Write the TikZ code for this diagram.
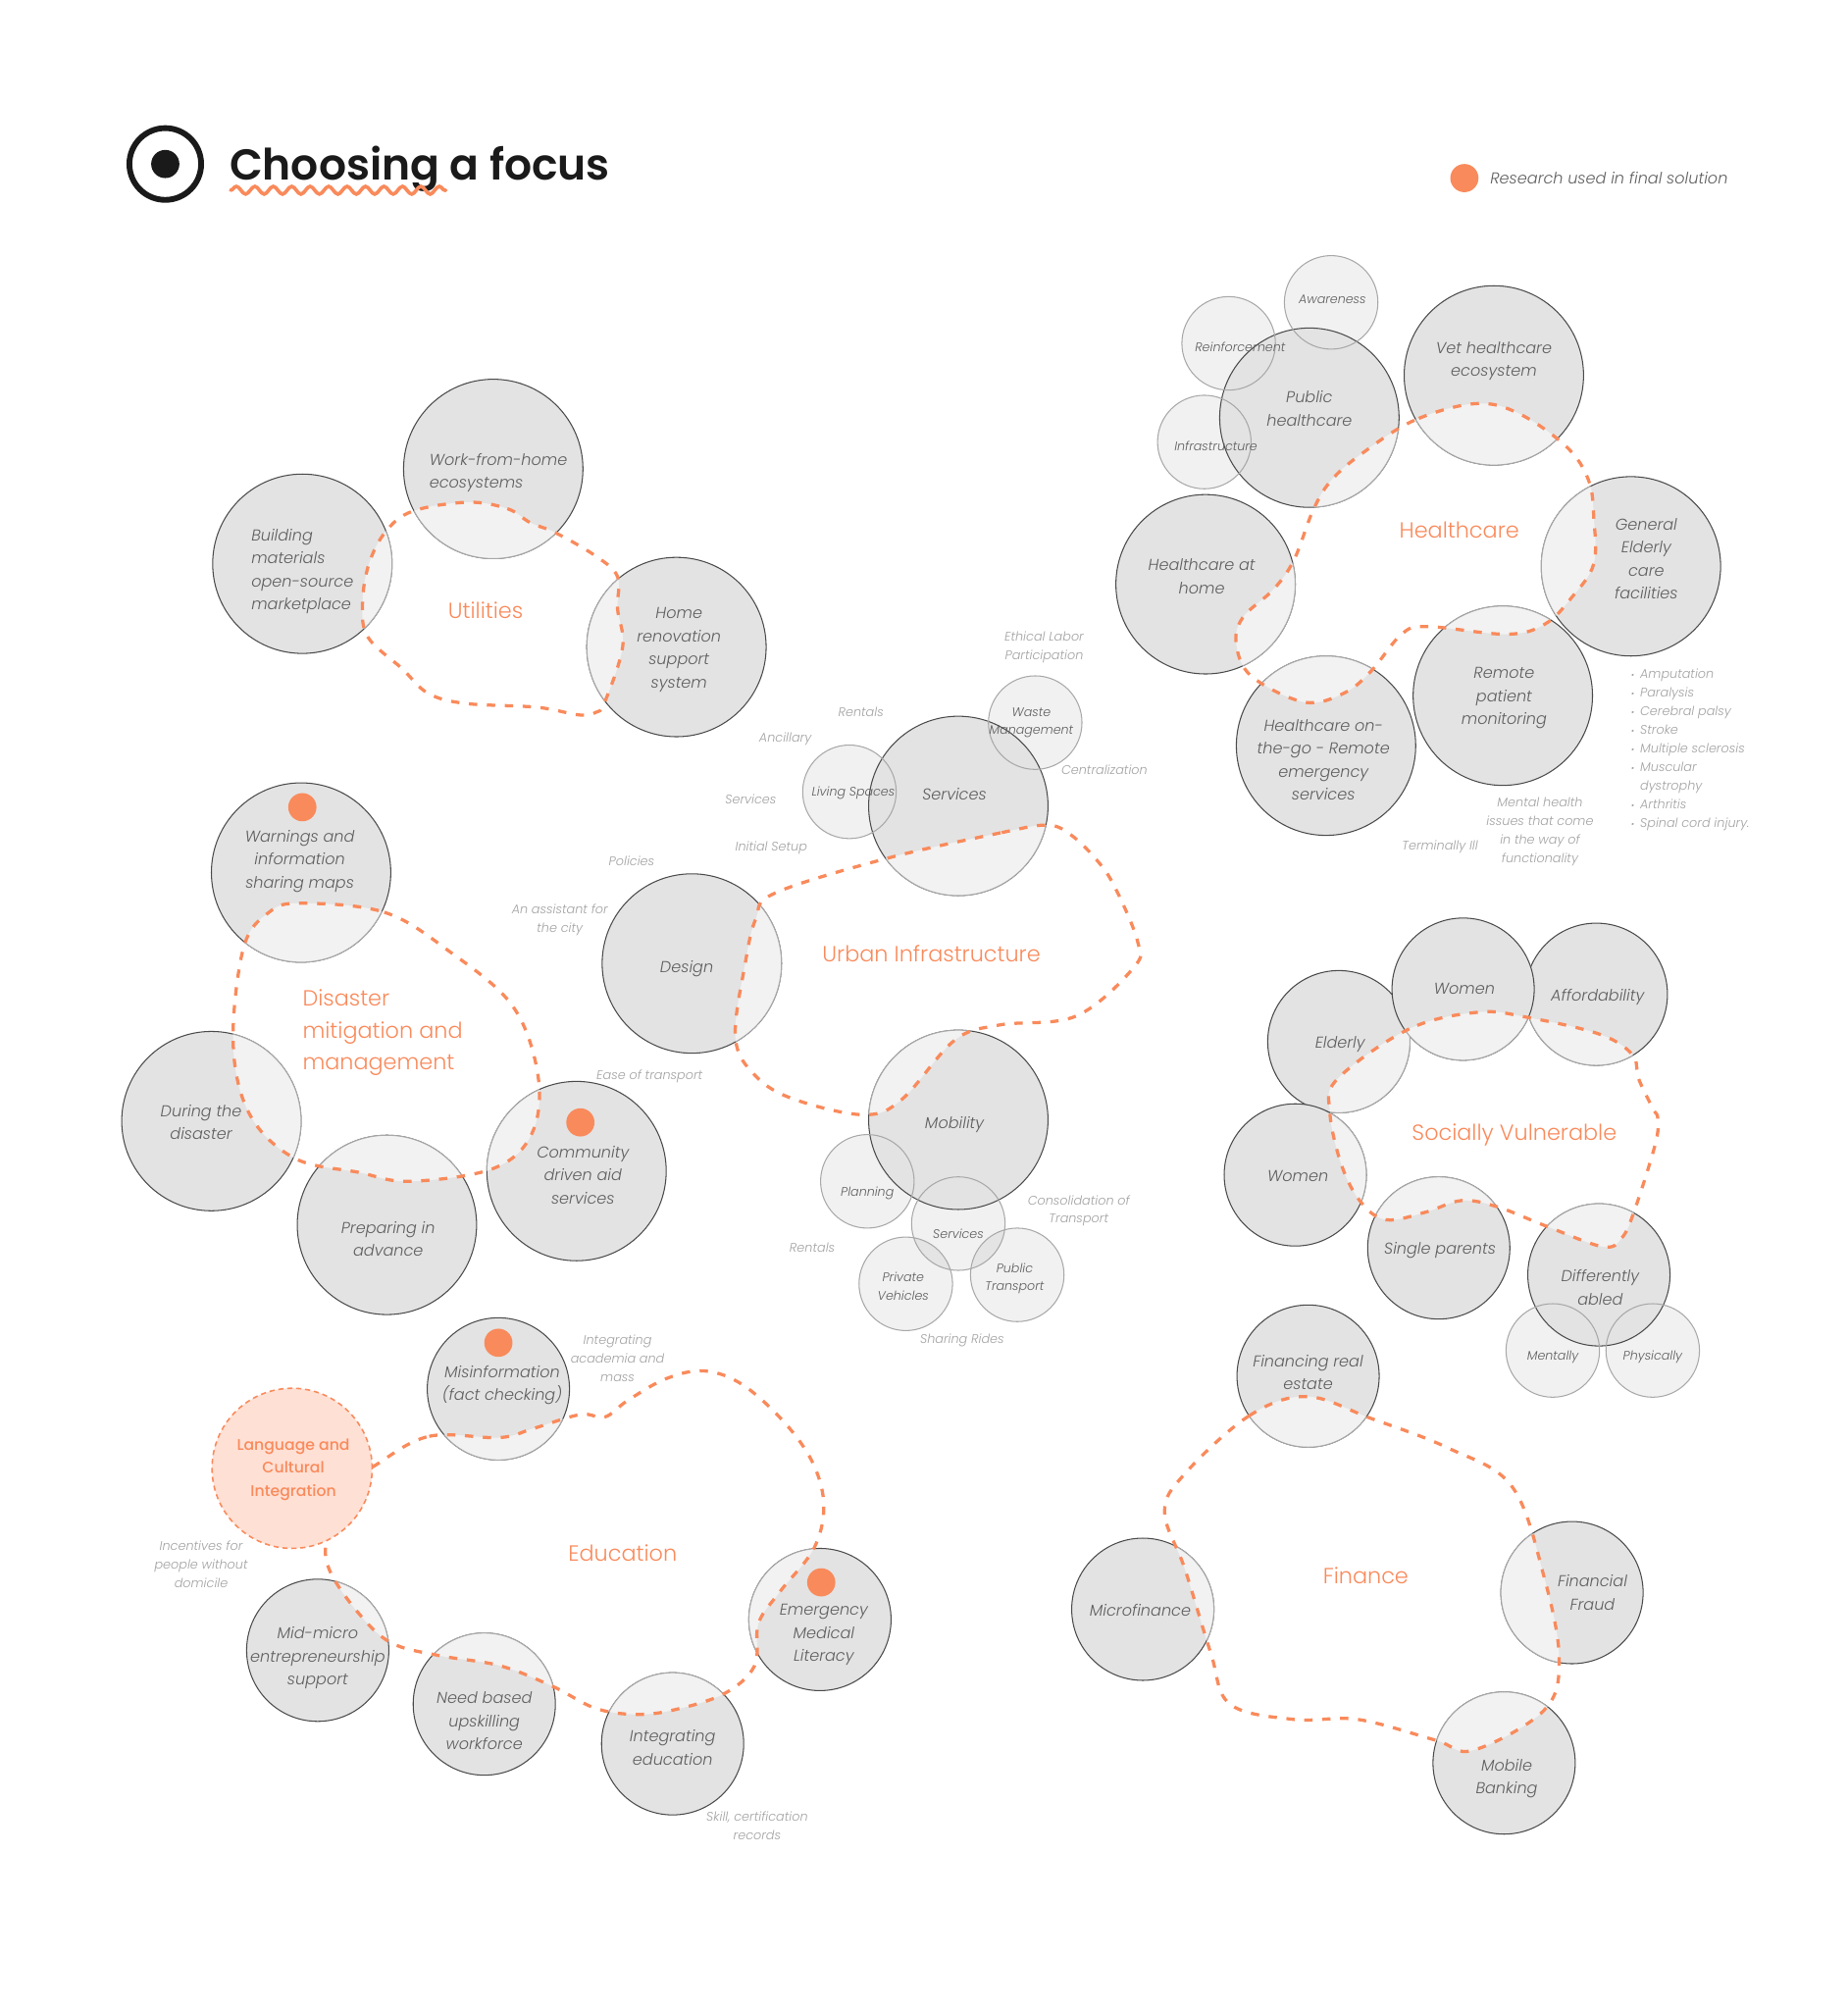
\documentclass[tikz,border=0pt]{standalone}
\usepackage{fontspec}
\usetikzlibrary{decorations.pathmorphing}
\newfontfamily\titlefont{Poppins SemiBold}
\newfontfamily\lightfont{Poppins Light}
\newfontfamily\lightital{Poppins Light Italic}
\newfontfamily\mediumfont{Poppins Medium}
\definecolor{diskgray}{HTML}{E3E3E3}
\definecolor{diskpale}{HTML}{F2F2F2}
\definecolor{diskline}{HTML}{4A4A4A}
\definecolor{paleline}{HTML}{A8A8A8}
\definecolor{accent}{HTML}{F98A5B}
\definecolor{accentpale}{HTML}{FFE0D5}
\definecolor{inktext}{HTML}{5E5E5E}
\definecolor{faint}{HTML}{A2A2A2}
\definecolor{inkdark}{HTML}{1A1A1A}
\newcommand{\lbul}{\makebox[7pt][l]{\fontsize{7}{7}\selectfont\textbullet}}
\begin{document}
\begin{tikzpicture}[
  x=1pt, y=-1pt,
  bigdisk/.style={circle, draw=diskline, fill=diskgray, line width=0.8pt, inner sep=0pt, outer sep=0pt, minimum size=140pt},
  middisk/.style={bigdisk, minimum size=111pt},
  smalldisk/.style={circle, fill=black, fill opacity=0.055, inner sep=0pt, outer sep=0pt, minimum size=73pt},
  smallring/.style={draw=paleline, line width=0.8pt},
  paledisk/.style={draw=paleline, fill=diskpale, line width=0.8pt},
  blobline/.style={draw=accent, line width=2.5pt, dash pattern=on 6.5pt off 7.5pt},
  dot/.style={circle, fill=accent, inner sep=0pt, minimum size=22pt},
  bigtext/.style={text=inktext, font=\fontsize{12.3}{18}\selectfont\lightital, align=center, inner sep=0pt, yshift=-2pt},
  smalltext/.style={text=inktext, font=\fontsize{9.7}{14.3}\selectfont\lightital, align=center, inner sep=0pt, yshift=-1pt},
  faintlabel/.style={text=faint, font=\fontsize{9.8}{14.5}\selectfont\lightital, align=center, inner sep=0pt, yshift=-1pt},
  grouplabel/.style={text=accent, font=\fontsize{17.1}{25}\selectfont\lightfont, align=center, inner sep=0pt},
  blobutil/.style={insert path={plot[smooth cycle, tension=0.6] coordinates {(365,392) (396,397) (414,408) (434,416) (465,434) (482,450) (482,475) (486,505) (472,548) (465,556) (452,558) (419,552) (363,549) (334,541) (314,522) (287,497) (283,470) (288,440) (301,415) (322,399)}}},
  blobhealth/.style={insert path={plot[smooth cycle, tension=0.6] coordinates {(1152,315) (1104,328) (1063,354) (1039,375) (1025,398) (1010,437) (994,460) (970,482) (965,503) (977,528) (1018,548) (1049,541) (1070,524) (1094,495) (1114,489) (1176,495) (1206,487) (1227,466) (1244,440) (1244,404) (1240,375) (1223,349) (1186,323)}}},
  bloburban/.style={insert path={plot[smooth cycle, tension=0.6] coordinates {(817,644) (781,650) (692,670) (605,697) (590,717) (582,750) (574,810) (590,840) (620,858) (674,870) (704,858) (745,812) (780,800) (840,793) (885,755) (888,735) (870,692) (855,670) (835,651)}}},
  blobdisaster/.style={insert path={plot[smooth cycle, tension=0.6] coordinates {(235,705) (300,712) (350,742) (400,785) (420,840) (415,885) (385,912) (320,922) (280,915) (230,904) (195,870) (182,815) (190,740) (210,712)}}},
  blobsocial/.style={insert path={plot[smooth cycle, tension=0.6] coordinates {(1154,790) (1100,803) (1044,842) (1038,868) (1047,909) (1062,938) (1082,952) (1113,946) (1141,937) (1169,942) (1207,957) (1251,973) (1266,966) (1276,944) (1292,893) (1294,873) (1290,865) (1279,842) (1274,823) (1248,807) (1192,794)}}},
  blobfinance/.style={insert path={plot[smooth cycle, tension=0.6] coordinates {(1020,1090) (975,1105) (925,1150) (909,1180) (925,1225) (945,1290) (960,1330) (1010,1342) (1060,1342) (1120,1358) (1150,1366) (1205,1335) (1217,1295) (1205,1230) (1180,1160) (1130,1130) (1070,1107)}}},
  blobedu/.style={insert path={plot[smooth cycle, tension=0.6] coordinates {(294,1143) (335,1121) (390,1122) (416,1115) (453,1104) (472,1106) (490,1093) (520,1076) (550,1070) (580,1081) (613,1111) (635,1143) (643,1176) (635,1209) (609,1242) (592,1267) (589,1300) (565,1322) (524,1335) (494,1338) (464,1333) (431,1316) (390,1300) (342,1292) (305,1282) (279,1258) (257,1225) (255,1200) (265,1165)}}}
]
  \useasboundingbox (0,0) rectangle (1442,1568);

  % Header
  \node[circle, draw=inkdark, line width=4.5pt, inner sep=0pt, outer sep=0pt, minimum size=56pt] (ring) at (129,128) {};
  \node[circle, fill=inkdark, inner sep=0pt, minimum size=22pt] (ringdot) at (129,128) {};
  \node[anchor=west, text=inkdark, inner sep=0pt, yshift=-4pt, font=\fontsize{33.7}{36}\selectfont\titlefont] (title) at (179,128) {Choosing a focus};
  \coordinate (wavea) at (180,148.5);
  \coordinate (waveb) at (348,148.5);
  \draw[accent, line width=2.8pt, line cap=round, decorate, decoration={snake, segment length=14.4pt, amplitude=3pt}] (wavea) -- (waveb);

  % Legend
  \node[dot] (legenddot) at (1143,139) {};
  \node[anchor=west, text=inktext, inner sep=0pt, font=\fontsize{12.3}{14}\selectfont\lightital] (legend) at (1163,139) {Research used in final solution};

  % Fills of the small circles, under the big ones
  \node[smalldisk] (aware) at (1039,236) {};
  \node[smalldisk] (reinforce) at (959,268) {};
  \node[smalldisk] (infra) at (940,345) {};
  \node[smalldisk] (living) at (663,618) {};
  \node[smalldisk] (waste) at (808,564) {};
  \node[smalldisk] (planning) at (677,922) {};
  \node[smalldisk] (subserv) at (748,955) {};
  \node[smalldisk] (private) at (707,1002) {};
  \node[smalldisk] (transport) at (794,995) {};
  \node[smalldisk] (mentally) at (1212,1054) {};
  \node[smalldisk] (physically) at (1290,1054) {};

  % Utilities
  \node[bigdisk] (wfh) at (385,366) {};
  \node[bigdisk] (building) at (236,440) {};
  \node[bigdisk] (reno) at (528,505) {};
  % Healthcare
  \node[bigdisk] (public) at (1022,326) {};
  \node[bigdisk] (vet) at (1166,293) {};
  \node[bigdisk] (general) at (1273,442) {};
  \node[bigdisk] (remote) at (1173,543) {};
  \node[bigdisk] (onthego) at (1035,582) {};
  \node[bigdisk] (athome) at (941,456) {};
  % Urban
  \node[bigdisk] (services) at (748,629) {};
  \node[bigdisk] (design) at (540,752) {};
  \node[bigdisk] (mobility) at (748,874) {};
  % Disaster
  \node[bigdisk] (warnings) at (235,681) {};
  \node[bigdisk] (during) at (165,875) {};
  \node[bigdisk] (preparing) at (302,956) {};
  \node[bigdisk] (community) at (450,914) {};
  % Socially vulnerable
  \node[middisk] (elderly) at (1045,813) {};
  \node[middisk] (afford) at (1246,776) {};
  \node[middisk] (womentop) at (1142,772) {};
  \node[middisk] (womenleft) at (1011,917) {};
  \node[middisk] (single) at (1123,974) {};
  \node[middisk] (abled) at (1248,995) {};
  % Finance
  \node[middisk] (realestate) at (1021,1074) {};
  \node[middisk] (microfin) at (892,1256) {};
  \node[middisk] (fraud) at (1227,1243) {};
  \node[middisk] (banking) at (1174,1376) {};
  % Education
  \node[middisk] (misinfo) at (389,1084) {};
  \node[middisk] (midmicro) at (248,1288) {};
  \node[middisk] (upskill) at (378,1330) {};
  \node[middisk] (integrating) at (525,1361) {};
  \node[middisk] (emergency) at (640,1264) {};

  % Pale parts inside each blob
  \begin{scope}
    \clip[blobutil];
    \path[paledisk] (wfh) circle (70) (building) circle (70) (reno) circle (70);
  \end{scope}
  \begin{scope}
    \clip[blobhealth];
    \path[paledisk] (public) circle (70);
    \path[paledisk] (vet) circle (70);
    \path[paledisk] (general) circle (70);
    \path[paledisk] (remote) circle (70);
    \path[paledisk] (onthego) circle (70);
    \path[paledisk] (athome) circle (70);
  \end{scope}
  \begin{scope}
    \clip[bloburban];
    \path[paledisk] (services) circle (70) (design) circle (70) (mobility) circle (70);
  \end{scope}
  \begin{scope}
    \clip[blobdisaster];
    \path[paledisk] (warnings) circle (70) (during) circle (70) (preparing) circle (70);
    \path[paledisk] (community) circle (70);
  \end{scope}
  \begin{scope}
    \clip[blobsocial];
    \path[paledisk] (elderly) circle (55.5);
    \path[paledisk] (afford) circle (55.5);
    \path[paledisk] (womentop) circle (55.5);
    \path[paledisk] (womenleft) circle (55.5);
    \path[paledisk] (single) circle (55.5);
    \path[paledisk] (abled) circle (55.5);
  \end{scope}
  \begin{scope}
    \clip[blobfinance];
    \path[paledisk] (realestate) circle (55.5) (microfin) circle (55.5) (fraud) circle (55.5) (banking) circle (55.5);
  \end{scope}
  \begin{scope}
    \clip[blobedu];
    \path[paledisk] (misinfo) circle (55.5) (midmicro) circle (55.5) (upskill) circle (55.5);
    \path[paledisk] (integrating) circle (55.5) (emergency) circle (55.5);
  \end{scope}

  % Dashed blobs
  \path[blobline, blobutil];
  \path[blobline, blobhealth];
  \path[blobline, bloburban];
  \path[blobline, blobdisaster];
  \path[blobline, blobsocial];
  \path[blobline, blobfinance];
  \path[blobline, blobedu];

  % Rings of the small circles
  \draw[smallring] (aware) circle (36.5) (reinforce) circle (36.5) (infra) circle (36.5);
  \draw[smallring] (living) circle (36.5) (waste) circle (36.5);
  \draw[smallring] (planning) circle (36.5) (subserv) circle (36.5) (private) circle (36.5) (transport) circle (36.5);
  \draw[smallring] (mentally) circle (36.5) (physically) circle (36.5);

  % Language circle sits over the education blob
  \node[circle, draw=accent, fill=accentpale, line width=1.2pt, dash pattern=on 4pt off 3pt, inner sep=0pt, outer sep=0pt, minimum size=125pt] (language) at (228,1146) {};

  % Research dots
  \node[dot] (dotwarn) at (236,630) {};
  \node[dot] (dotcomm) at (453,876) {};
  \node[dot] (dotmis) at (389,1048) {};
  \node[dot] (dotemer) at (641,1235) {};

  % Labels of the groups
  \node[grouplabel] (lutil) at (379,476) {Utilities};
  \node[grouplabel] (lhealth) at (1139,414) {Healthcare};
  \node[grouplabel] (lurban) at (727,744) {Urban Infrastructure};
  \node[grouplabel, anchor=west, align=left] (ldisaster) at (236,806) {Disaster\\mitigation and\\management};
  \node[grouplabel] (lsocial) at (1182,886) {Socially Vulnerable};
  \node[grouplabel] (lfinance) at (1066,1230) {Finance};
  \node[grouplabel] (ledu) at (486,1212) {Education};

  % Texts of the big circles
  \node[bigtext, align=left, anchor=west] (twfh) at (335,367) {Work-from-home\\ecosystems};
  \node[bigtext, align=left, anchor=west] (tbuilding) at (196,444) {Building\\materials\\open-source\\marketplace};
  \node[bigtext] (treno) at (530,505) {Home\\renovation\\support\\system};
  \node[bigtext] (tpublic) at (1022,317) {Public\\healthcare};
  \node[bigtext] (tvet) at (1166,280) {Vet healthcare\\ecosystem};
  \node[bigtext] (tgeneral) at (1285,434) {General\\Elderly\\care\\facilities};
  \node[bigtext] (tremote) at (1174,543) {Remote\\patient\\monitoring};
  \node[bigtext] (tonthego) at (1033,591) {Healthcare on-\\the-go - Remote\\emergency\\services};
  \node[bigtext] (tathome) at (938,448) {Healthcare at\\home};
  \node[bigtext] (tservices) at (745,618) {Services};
  \node[bigtext] (tdesign) at (536,754) {Design};
  \node[bigtext] (tmobility) at (745,876) {Mobility};
  \node[bigtext] (twarnings) at (234,670) {Warnings and\\information\\sharing maps};
  \node[bigtext] (tduring) at (157,874) {During the\\disaster};
  \node[bigtext] (tpreparing) at (303,965) {Preparing in\\advance};
  \node[bigtext] (tcommunity) at (455,915) {Community\\driven aid\\services};
  \node[bigtext] (telderly) at (1046,813) {Elderly};
  \node[bigtext] (twomentop) at (1143,770) {Women};
  \node[bigtext] (tafford) at (1247,776) {Affordability};
  \node[bigtext] (twomenleft) at (1013,916) {Women};
  \node[bigtext] (tsingle) at (1124,974) {Single parents};
  \node[bigtext] (tabled) at (1249,1003) {Differently\\abled};
  \node[bigtext] (trealestate) at (1021,1069) {Financing real\\estate};
  \node[bigtext] (tmicrofin) at (890,1255) {Microfinance};
  \node[bigtext] (tfraud) at (1243,1241) {Financial\\Fraud};
  \node[bigtext] (tbanking) at (1176,1386) {Mobile\\Banking};
  \node[bigtext] (tmisinfo) at (392,1079) {Misinformation\\(fact checking)};
  \node[bigtext, text=accent, font=\fontsize{12}{18}\selectfont\mediumfont] (tlanguage) at (229,1145) {Language and\\Cultural\\Integration};
  \node[bigtext] (tmidmicro) at (248,1292) {Mid-micro\\entrepreneurship\\support};
  \node[bigtext] (tupskill) at (378,1341) {Need based\\upskilling\\workforce};
  \node[bigtext] (tintegrating) at (525,1362) {Integrating\\education};
  \node[bigtext] (temergency) at (643,1274) {Emergency\\Medical\\Literacy};

  % Texts of the small circles
  \node[smalltext] (taware) at (1040,233) {Awareness};
  \node[smalltext] (treinforce) at (968,270) {Reinforcement};
  \node[smalltext] (tinfra) at (949,347) {Infrastructure};
  \node[smalltext] (tliving) at (666,618) {Living Spaces};
  \node[smalltext] (twaste) at (805,563) {Waste\\Management};
  \node[smalltext] (tplanning) at (677,930) {Planning};
  \node[smalltext] (tsubserv) at (748,962) {Services};
  \node[smalltext] (tprivate) at (705,1003) {Private\\Vehicles};
  \node[smalltext] (ttransport) at (792,997) {Public\\Transport};
  \node[smalltext] (tmentally) at (1212,1058) {Mentally};
  \node[smalltext] (tphysically) at (1290,1058) {Physically};

  % Faint notes
  \node[faintlabel] (nethical) at (815,504) {Ethical Labor\\Participation};
  \node[faintlabel] (nrentals) at (672,555) {Rentals};
  \node[faintlabel] (nancillary) at (613,576) {Ancillary};
  \node[faintlabel] (ncentral) at (862,600) {Centralization};
  \node[faintlabel] (nservices) at (586,623) {Services};
  \node[faintlabel] (nsetup) at (602,661) {Initial Setup};
  \node[faintlabel] (npolicies) at (493,671) {Policies};
  \node[faintlabel] (nassist) at (437,717) {An assistant for\\the city};
  \node[faintlabel] (nease) at (507,839) {Ease of transport};
  \node[faintlabel] (nconsol) at (842,944) {Consolidation of\\Transport};
  \node[faintlabel] (nrentalstwo) at (634,973) {Rentals};
  \node[faintlabel] (nsharing) at (751,1045) {Sharing Rides};
  \node[faintlabel] (nterminal) at (1124,660) {Terminally Ill};
  \node[faintlabel] (nmental) at (1202,648) {Mental health\\issues that come\\in the way of\\functionality};
  \node[faintlabel, align=left, anchor=north west] (nlist) at (1273,521) {\lbul Amputation\\\lbul Paralysis\\\lbul Cerebral palsy\\\lbul Stroke\\\lbul Multiple sclerosis\\\lbul Muscular\\\hspace*{7pt}dystrophy\\\lbul Arthritis\\\lbul Spinal cord injury.};
  \node[faintlabel] (nacademia) at (482,1059) {Integrating\\academia and\\mass};
  \node[faintlabel] (nincent) at (157,1220) {Incentives for\\people without\\domicile};
  \node[faintlabel] (nskill) at (591,1424) {Skill, certification\\records};
\end{tikzpicture}
\end{document}
